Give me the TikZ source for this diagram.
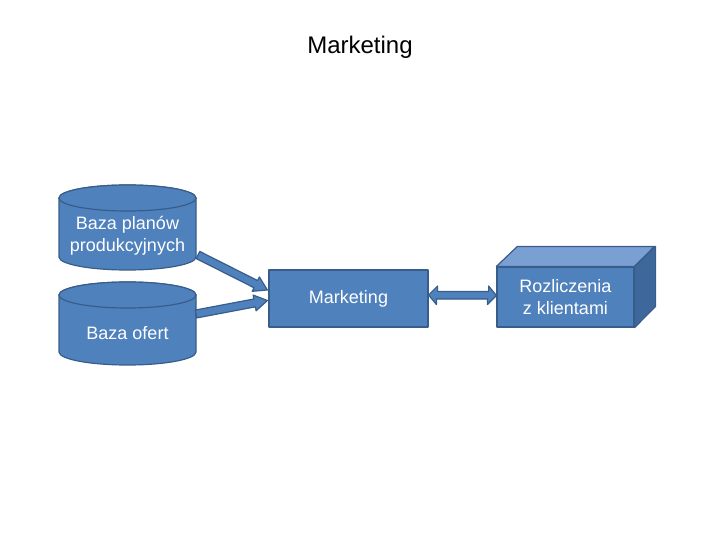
\documentclass[tikz,border=0pt]{standalone}
\usepackage{fontspec}
\setmainfont{Liberation Sans}
\usetikzlibrary{calc}

\definecolor{boxblue}{HTML}{4F81BD}
\definecolor{edgeblue}{HTML}{385D8A}
\definecolor{topblue}{HTML}{7A9FD3}
\definecolor{sideblue}{HTML}{3E679C}

% block arrow between two named points: #1 tail, #2 tip
\newcommand{\blockarrow}[2]{%
  \coordinate (hb) at ($(#2)!13pt!(#1)$);
  \draw[barrow] ($(#1)!4pt!90:(#2)$) -- ($(hb)!4pt!90:(#2)$)
    -- ($(hb)!8pt!90:(#2)$) -- (#2) -- ($(hb)!8pt!-90:(#2)$)
    -- ($(hb)!4pt!-90:(#2)$) -- ($(#1)!4pt!-90:(#2)$) -- cycle;
}

% cylinder (baza danych): #1 top y, #2 bottom y
\newcommand{\bazadanych}[2]{%
  \draw[barrow] (59,#1+13) -- (59,#2-13)
    arc[start angle=180, end angle=360, x radius=68.5pt, y radius=13pt]
    -- (196,#1+13)
    arc[start angle=0, end angle=180, x radius=68.5pt, y radius=13pt] -- cycle;
  \draw[barrow] (127.5,#1+13) ellipse[x radius=68.5pt, y radius=13pt];
}

\begin{document}
\begin{tikzpicture}[
  x=1pt, y=-1pt,
  line join=round,
  base/.style={fill=boxblue, draw=edgeblue, line width=1.2pt, text=white,
    font=\fontsize{18}{22}\selectfont, align=center, inner sep=0pt},
  procbox/.style={base, rectangle},
  dbtext/.style={text=white, font=\fontsize{18}{22}\selectfont, align=center},
  barrow/.style={fill=boxblue, draw=edgeblue, line width=1.2pt},
]

\useasboundingbox (0,0) rectangle (720,540);

% tytul
\node[font=\fontsize{24}{28}\selectfont] (title) at (360,47) {Marketing};

% bazy danych
\bazadanych{185}{270}
\node[dbtext] (plany) at (127.5,236) {Baza planów\\produkcyjnych};
\bazadanych{282}{365}
\node[dbtext] (oferty) at (127.5,333) {Baza ofert};

% proces
\node[procbox, minimum width=159pt, minimum height=57pt] (mark) at (348.5,298.5)
  {Marketing};

% rozliczenia (prostopadloscian)
\node[procbox, minimum width=137pt, minimum height=60pt] (rozl) at (565.5,297)
  {Rozliczenia\\z klientami};
\draw[barrow, fill=topblue] (rozl.north west) -- ++(21,-20) -- ++(137,0)
  -- (rozl.north east) -- cycle;
\draw[barrow, fill=sideblue] (rozl.north east) -- ++(21,-20) -- ++(0,60)
  -- (rozl.south east) -- cycle;

% strzalki
\coordinate (t1) at (198,255);
\coordinate (h1) at ($(mark.west)+(-1,-8.5)$);
\coordinate (t2) at (196,314);
\coordinate (h2) at ($(mark.west)+(-1,2)$);
\blockarrow{t1}{h1}
\blockarrow{t2}{h2}

% strzalka dwukierunkowa
\coordinate (da) at ($(mark.east)+(0,-3.5)$);
\coordinate (db) at ($(rozl.west)+(0,-1.5)$);
\draw[barrow] (da) -- ++(9,-9) -- ++(0,5.5) -- ++(51,0) -- ++(0,-5.5)
  -- (db) -- ++(-9,9) -- ++(0,-5.5) -- ++(-51,0) -- ++(0,5.5) -- cycle;

\end{tikzpicture}
\end{document}
